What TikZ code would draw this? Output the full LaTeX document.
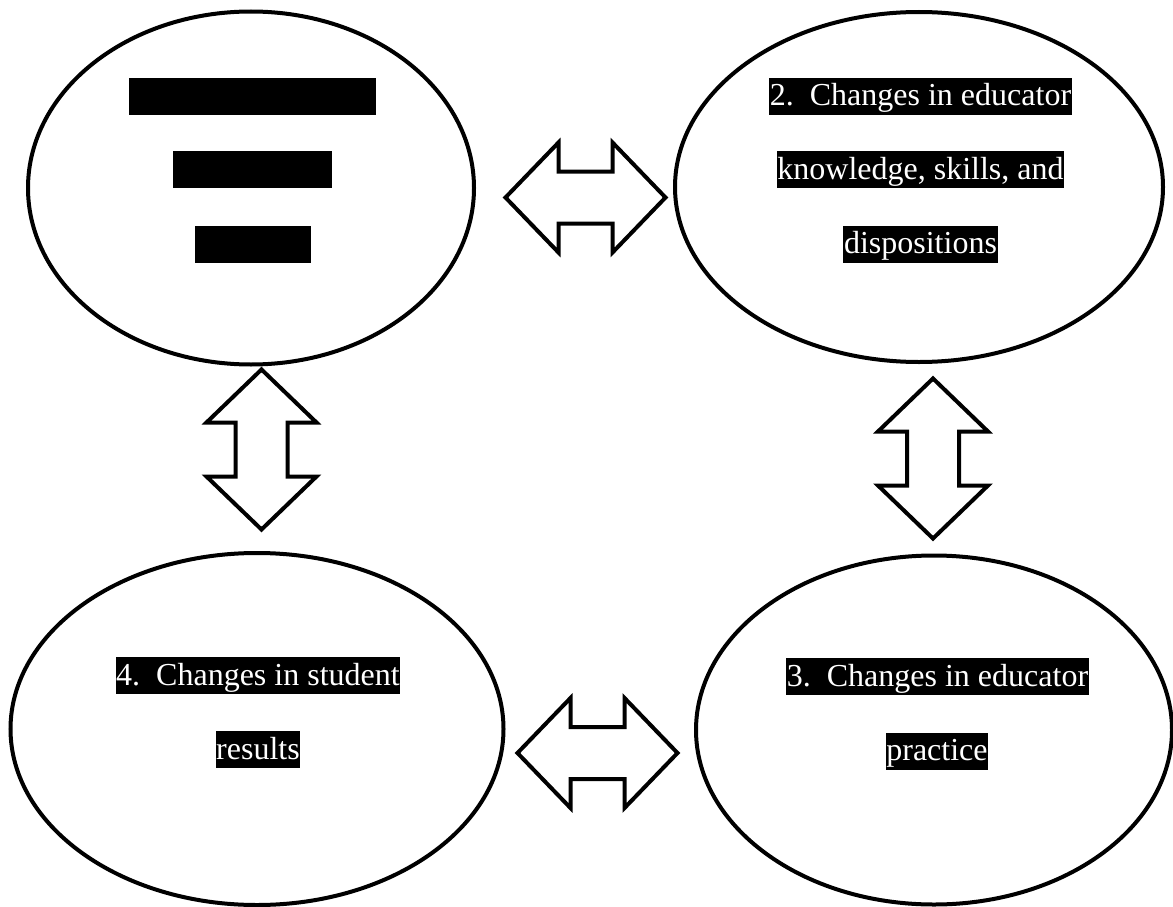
\documentclass[tikz,border=0pt]{standalone}
\usepackage{fontspec}
\setmainfont{Liberation Serif}
\usetikzlibrary{shapes.geometric}
\tikzset{
  bubble/.style={ellipse, draw=black, line width=4pt, inner sep=0pt, fill=white},
  hl/.style={fill=black, text=white, inner xsep=0.6pt, inner ysep=0pt,
             text height=28pt, text depth=9pt, font=\fontsize{32pt}{38pt}\selectfont},
  redact/.style={fill=black, inner sep=0pt, minimum height=37pt},
  arrowline/.style={draw=black, line width=4pt, fill=white, line join=miter},
  dblarrow/.pic={
    \path[arrowline] (-80,0) -- (-27,-55) -- (-27,-26) -- (27,-26) -- (27,-55) -- (80,0)
      -- (27,55) -- (27,26) -- (-27,26) -- (-27,55) -- cycle;
  }
}
\begin{document}
\begin{tikzpicture}[x=1pt,y=-1pt]
\useasboundingbox (0,0) rectangle (1173,907);
% ellipses
\node[bubble, minimum width=446pt, minimum height=353pt] (e1) at (251,188) {};
\node[bubble, minimum width=488pt, minimum height=350pt] (e2) at (919,187) {};
\node[bubble, minimum width=476pt, minimum height=349pt] (e3) at (934,730) {};
\node[bubble, minimum width=493pt, minimum height=352pt] (e4) at (257,729) {};
% block arrows
\pic at (585.5,197.5) {dblarrow};
\pic at (597.5,753) {dblarrow};
\pic[rotate=90] at (261.5,449.5) {dblarrow};
\pic[rotate=90] at (933,458.5) {dblarrow};
% ellipse 1 (redacted)
\node[redact, minimum width=247pt] (r1) at (252.5,96.5) {};
\node[redact, minimum width=159pt] (r2) at (252.5,169.5) {};
\node[redact, minimum width=116pt] (r3) at (253,244) {};
% ellipse 2
\node[hl] (t21) at (920.5,96.5) {2.\ \ Changes in educator};
\node[hl] (t22) at (920.5,169.5) {knowledge, skills, and};
\node[hl] (t23) at (920.5,244) {dispositions};
% ellipse 3
\node[hl] (t31) at (937.5,676.5) {3.\ \ Changes in educator};
\node[hl] (t32) at (937,751) {practice};
% ellipse 4
\node[hl] (t41) at (258,675.5) {4.\ \ Changes in student};
\node[hl] (t42) at (258,749.5) {results};
\end{tikzpicture}
\end{document}
